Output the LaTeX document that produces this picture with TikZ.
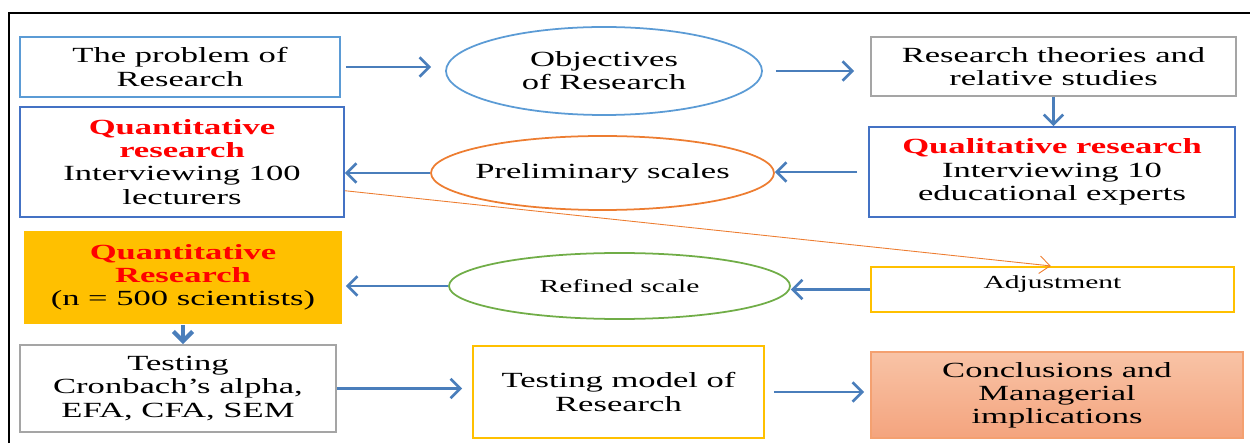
\documentclass[tikz,border=0pt]{standalone}
\usepackage{fontspec}
\setmainfont{Liberation Serif}[FakeStretch=1.6]
\usetikzlibrary{arrows.meta,shapes.geometric}

\definecolor{skyline}{HTML}{5B9BD5}
\definecolor{deepblue}{HTML}{4472C4}
\definecolor{steelgray}{HTML}{A5A5A5}
\definecolor{tangerine}{HTML}{ED7D31}
\definecolor{amber}{HTML}{FFC000}
\definecolor{leaf}{HTML}{70AD47}
\definecolor{arrowblue}{HTML}{4A7EBB}
\definecolor{coral}{HTML}{F4A070}
\definecolor{peachtop}{HTML}{F8C3A6}
\definecolor{peachbottom}{HTML}{F4A47E}

\newcommand\redhead[1]{\textcolor{red}{\textbf{#1}}}

\tikzset{
  box/.style={draw, line width=1pt, align=center, inner sep=2pt,
    font=\fontsize{12.3}{13.2}\selectfont},
  oval/.style={ellipse, draw, line width=1pt, align=center, inner sep=0pt,
    font=\fontsize{12.3}{13.2}\selectfont},
  flow/.style={draw=arrowblue, line width=1.5pt,
    -{Straight Barb[length=5.5pt,width=11pt]}},
  thinflow/.style={draw=tangerine, line width=0.5pt,
    -{Straight Barb[length=6pt,width=10pt]}},
}

\begin{document}
\begin{tikzpicture}
  %%%%% START %%%%%
  \useasboundingbox (0,0) rectangle (25,8.86);
  \draw[line width=1.6pt] (0.18,0) -- (0.18,8.6) -- (25,8.6);

  % first row
  \node[box, draw=skyline, minimum width=6.4cm, minimum height=1.2cm] (problem) at (3.6,7.52) {The problem of\\Research};
  \node[oval, draw=skyline, minimum width=6.32cm, minimum height=1.76cm] (objectives) at (12.08,7.44) {Objectives\\of Research};
  \node[box, draw=steelgray, minimum width=7.3cm, minimum height=1.18cm] (theories) at (21.07,7.53) {Research theories and\\relative studies};

  % second row
  \node[box, draw=deepblue, minimum width=7.32cm, minimum height=1.8cm] (qualitative) at (21.04,5.42) {\redhead{Qualitative research}\\Interviewing 10\\educational experts};
  \node[oval, draw=tangerine, minimum width=6.82cm, minimum height=1.48cm, inner xsep=-0.12cm] (preliminary) at (12.05,5.4) {Preliminary scales};
  \node[box, draw=deepblue, minimum width=6.48cm, minimum height=2.2cm] (pilot) at (3.64,5.62) {\redhead{Quantitative}\\\redhead{research}\\Interviewing 100\\lecturers};

  % third row
  \node[box, draw=none, fill=amber, minimum width=6.36cm, minimum height=1.86cm] (survey) at (3.66,3.31) {\redhead{Quantitative}\\\redhead{Research}\\(n = 500 scientists)};
  \node[oval, draw=leaf, minimum width=6.82cm, minimum height=1.32cm, font=\fontsize{10.5}{12}\selectfont] (refined) at (12.39,3.14) {Refined scale};
  \node[box, draw=amber, minimum width=7.26cm, minimum height=0.9cm, font=\fontsize{10.5}{12}\selectfont, text depth=0.28cm] (adjust) at (21.05,3.07) {Adjustment};

  % fourth row
  \node[box, draw=steelgray, minimum width=6.32cm, minimum height=1.74cm] (testing) at (3.56,1.09) {Testing\\Cronbach's alpha,\\EFA, CFA, SEM};
  \node[box, draw=amber, minimum width=5.82cm, minimum height=1.84cm] (model) at (12.37,1.02) {Testing model of\\Research};
  \node[box, draw=coral, top color=peachtop, bottom color=peachbottom, minimum width=7.44cm, minimum height=1.72cm] (conclude) at (21.14,0.96) {Conclusions and\\Managerial\\implications};

  % arrows
  \draw[flow, shorten <=0.1cm, shorten >=0.28cm] (problem.east) -- (problem.east -| objectives.west);
  \draw[flow, shorten <=0.26cm, shorten >=0.32cm] (objectives.east) -- (objectives.east -| theories.west);
  \draw[flow] (theories.south) -- (theories.south |- qualitative.north);
  \draw[flow, shorten <=0.22cm] (qualitative.west) -- (qualitative.west -| preliminary.east);
  \draw[flow] (preliminary.west) -- (preliminary.west -| pilot.east);
  \draw[flow] (adjust.west) -- (adjust.west -| refined.east);
  \draw[flow, shorten >=0.06cm] (refined.west) -- (refined.west -| survey.east);
  \draw[flow, line width=2.4pt] (survey.south) -- (survey.south |- testing.north);
  \draw[flow, shorten >=0.2cm] (testing.east) -- (testing.east -| model.west);
  \draw[flow, shorten <=0.18cm, shorten >=0.12cm] (model.east) -- (model.east -| conclude.west);
  \draw[thinflow, shorten >=1pt] (pilot.-10.5) -- (adjust.north);
  %%%%% END %%%%%
\end{tikzpicture}
\end{document}
